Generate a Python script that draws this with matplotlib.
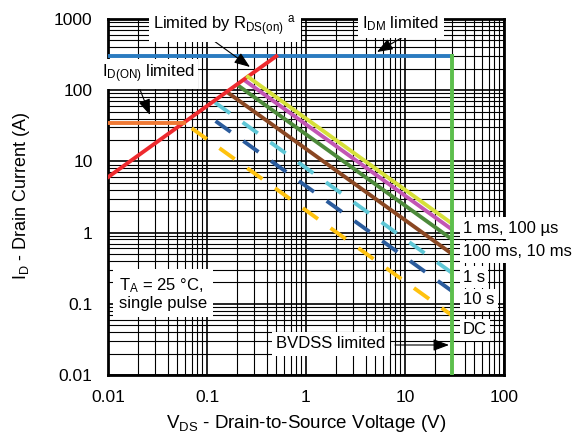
import numpy as np
import matplotlib
matplotlib.use('Agg')
import matplotlib.pyplot as plt
from matplotlib.ticker import FixedLocator, LogLocator, NullFormatter

plt.rcParams['font.family'] = ['Liberation Sans', 'DejaVu Sans']
plt.rcParams['mathtext.fontset'] = 'custom'
plt.rcParams['mathtext.rm'] = 'Liberation Sans'
plt.rcParams['mathtext.it'] = 'Liberation Sans'
plt.rcParams['font.size'] = 12

# limits
idm = 300          # A, pulsed drain current limit
id_on = 35         # A, on-state current limit
bvdss = 30         # V, breakdown voltage
rds_on = 1 / 600   # ohm, I = V / R

# pulse curves: constant power (W), start voltage (V), style
pulse_names = ['1 ms', '100 µs', '10 ms', '100 ms', '1 s', '10 s', 'DC']
pulse_power = [40, 33, 24, 15, 8.1, 4.5, 2.05]
pulse_vstart = [0.25, 0.235, 0.2, 0.155, 0.12, 0.122, 0.07]
pulse_colors = ['#d6e03a', '#c256b4', '#4d8a3b', '#8a4722', '#5fc7d6', '#2a5b9c', '#ffc20e']
pulse_dashed = [False, False, False, False, True, True, True]

right_labels = ['1 ms, 100 µs', '100 ms, 10 ms', '1 s', '10 s', 'DC']
right_label_y = [228, 252, 277, 300, 330]

fig = plt.figure(figsize=(5.79, 4.37), dpi=100)
ax = fig.add_axes([108 / 579, 1 - 375 / 437, 396 / 579, 356 / 437])
ax.set_xscale('log')
ax.set_yscale('log')
ax.set_xlim(0.01, 100)
ax.set_ylim(0.01, 1000)

ax.xaxis.set_major_locator(FixedLocator([0.01, 0.1, 1, 10, 100]))
ax.yaxis.set_major_locator(FixedLocator([0.01, 0.1, 1, 10, 100, 1000]))
ax.set_xticklabels(['0.01', '0.1', '1', '10', '100'])
ax.set_yticklabels(['0.01', '0.1', '1', '10', '100', '1000'])
ax.xaxis.set_minor_locator(LogLocator(base=10, subs=np.arange(2, 10)))
ax.yaxis.set_minor_locator(LogLocator(base=10, subs=np.arange(2, 10)))
ax.xaxis.set_minor_formatter(NullFormatter())
ax.yaxis.set_minor_formatter(NullFormatter())
ax.tick_params(which='both', length=0, pad=11, labelsize=12.5)
ax.grid(which='major', color='black', lw=1.2)
ax.grid(which='minor', color='black', lw=0.8)
ax.set_axisbelow(True)
for s in ax.spines.values():
    s.set_linewidth(2)

# limit lines
ax.plot([0.01, bvdss], [idm, idm], color='#2a7bc0', lw=2.8, zorder=3)
ax.plot([bvdss, bvdss], [0.01, idm], color='#5cbf4c', lw=2.8, zorder=4)
v_red = np.array([0.01, idm * rds_on])
ax.plot(v_red, v_red / rds_on, color='#ee2a2e', lw=2.8, zorder=3)
ax.plot([0.01, id_on * rds_on], [id_on, id_on], color='#f07a35', lw=2.8, zorder=3)

# pulse curves, drawn from the largest power down
for i in range(len(pulse_power)):
    v = np.array([pulse_vstart[i], bvdss])
    ls = (0, (4.8, 4.0)) if pulse_dashed[i] else '-'
    ax.plot(v, pulse_power[i] / v, color=pulse_colors[i], lw=2.8, ls=ls,
            solid_capstyle='butt', dash_capstyle='butt', zorder=3 - i * 0.01)

box = dict(boxstyle='square,pad=0.25', fc='white', ec='none')
arrow = dict(arrowstyle='-|>,head_length=0.8,head_width=0.3', color='black', lw=0.8,
             shrinkA=0, shrinkB=0)

def px(x, y):
    return (x / 579, 1 - y / 437)

# callout labels
fig.text(*px(225, 26), r'Limited by R$_\mathrm{DS(on)}$ $^\mathrm{a}$', ha='center', va='center',
         bbox=box, zorder=6)
fig.text(*px(401, 24), r'I$_\mathrm{DM}$ limited', ha='center', va='center', bbox=box, zorder=6)
fig.text(*px(148, 74), r'I$_\mathrm{D(ON)}$ limited', ha='center', va='center', bbox=box, zorder=6)
fig.text(*px(331, 344), 'BVDSS limited', ha='center', va='center', bbox=box, zorder=6)
fig.text(*px(119, 294), 'T$_\\mathrm{A}$ = 25 °C,\nsingle pulse', ha='left', va='center',
         fontsize=12, linespacing=1.1, bbox=dict(boxstyle='square,pad=0.35', fc='white', ec='none'))

# callout arrows
arrows = [((203, 33), (250, 67)), ((403, 37), (377, 52)),
          ((137, 82), (150, 115)), ((395, 345), (449, 345))]
for start, end in arrows:
    ax.annotate('', xy=px(*end), xycoords='figure fraction', xytext=px(*start),
                textcoords='figure fraction', arrowprops=arrow, zorder=7, annotation_clip=False)

for lab, y in zip(right_labels, right_label_y):
    fig.text(*px(463, y), lab, ha='left', va='center', fontsize=12,
             bbox=dict(boxstyle='square,pad=0.2', fc='white', ec='none'))

# axis titles
fig.text(*px(306, 424), r'V$_\mathrm{DS}$ - Drain-to-Source Voltage (V)', ha='center', va='center',
         fontsize=13.5)
fig.text(*px(22, 196), r'I$_\mathrm{D}$ - Drain Current (A)', ha='center', va='center',
         rotation=90, fontsize=13)

fig.savefig('out.png', dpi=100)
